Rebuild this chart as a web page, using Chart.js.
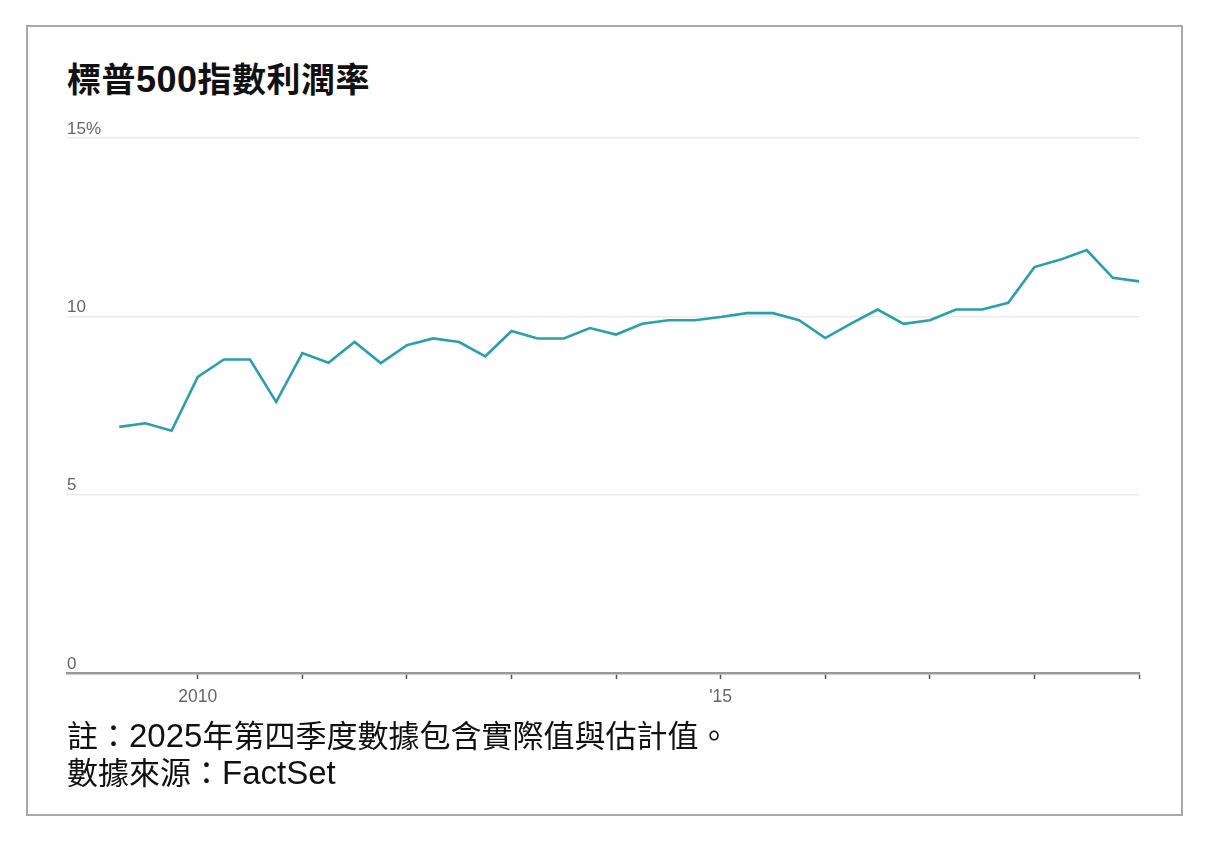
<!DOCTYPE html>
<html>
<head>
<meta charset="utf-8">
<script src="https://cdn.jsdelivr.net/npm/chart.js@4.4.1/dist/chart.umd.min.js"></script>
<style>
  html, body { margin: 0; padding: 0; background: #fff; }
  body { width: 1216px; height: 846px; position: relative; overflow: hidden; }
  .frame {
    position: absolute; left: 26px; top: 25px;
    width: 1153px; height: 787px;
    border: 2px solid #a9a9a9;
  }
  .title {
    position: absolute; left: 67px; top: 60px;
    font: 700 34px/36px "Noto Sans CJK TC", sans-serif;
    letter-spacing: 0.5px;
    color: #111;
    white-space: nowrap;
  }
  .title .num { font: 700 36px/36px "Liberation Sans", Arial, sans-serif; }
  .chart-wrap {
    position: absolute; left: 0; top: 110px;
    width: 1216px; height: 620px;
  }
  .notes {
    position: absolute; left: 67px; top: 716px;
    font: 400 31px/35px "Noto Sans CJK TC", sans-serif;
    color: #111;
    white-space: nowrap;
  }
  .notes .lat { font: 400 33px/35px "Liberation Sans", Arial, sans-serif; }
</style>
</head>
<body>
<div class="frame"></div>
<div class="title">標普<span class="num">500</span>指數利潤率</div>
<div class="chart-wrap"><canvas id="chart"></canvas></div>
<div class="notes">註：<span class="lat">2025</span>年第四季度數據包含實際值與估計值。<br>數據來源：<span class="lat">FactSet</span></div>

<script>
// quarterly S&P 500 net profit margin, %
const quarters = [
  '2009 Q1', '2009 Q2', '2009 Q3', '2009 Q4',
  '2010 Q1', '2010 Q2', '2010 Q3', '2010 Q4',
  '2011 Q1', '2011 Q2', '2011 Q3', '2011 Q4',
  '2012 Q1', '2012 Q2', '2012 Q3', '2012 Q4',
  '2013 Q1', '2013 Q2', '2013 Q3', '2013 Q4',
  '2014 Q1', '2014 Q2', '2014 Q3', '2014 Q4',
  '2015 Q1', '2015 Q2', '2015 Q3', '2015 Q4',
  '2016 Q1', '2016 Q2', '2016 Q3', '2016 Q4',
  '2017 Q1', '2017 Q2', '2017 Q3', '2017 Q4',
  '2018 Q1', '2018 Q2', '2018 Q3', '2018 Q4'
];

const margins = [
  6.90, 7.00, 6.79, 8.30,
  8.79, 8.79, 7.60, 8.97,
  8.70, 9.28, 8.69, 9.19,
  9.38, 9.28, 8.88, 9.59,
  9.38, 9.38, 9.67, 9.49,
  9.79, 9.89, 9.89, 9.98,
  10.09, 10.09, 9.89, 9.39,
  9.80, 10.19, 9.79, 9.89,
  10.19, 10.19, 10.38, 11.38,
  11.59, 11.86, 11.08, 10.98
];

const yTicks = [0, 5, 10, 15];
const xTickLabels = { 2010: '2010', 2015: "'15" };

// year boundaries fall after each Q4
function yearTickIndexes() {
  const out = [];
  quarters.forEach((q, i) => { if (q.endsWith('Q4')) out.push(i); });
  return out;
}

const canvas = document.getElementById('chart');

new Chart(canvas, {
  type: 'line',
  data: {
    datasets: [{
      data: margins.map((v, i) => ({ x: i, y: v })),
      borderColor: '#2b9fac',
      borderWidth: 2.6,
      pointRadius: 0,
      tension: 0,
      fill: false,
    }],
  },
  options: {
    responsive: true,
    maintainAspectRatio: false,
    animation: false,
    layout: {
      padding: { left: 67, right: 77, top: 28, bottom: 17 },
    },
    plugins: {
      legend: { display: false },
      tooltip: { enabled: false },
    },
    scales: {
      x: {
        type: 'linear',
        min: -2,
        max: quarters.length - 1,
        afterBuildTicks: (axis) => {
          axis.ticks = yearTickIndexes().map(v => ({ value: v }));
        },
        afterFit: (axis) => { axis.height = 40; },
        border: { display: true, color: '#9a9a9a', width: 2.5 },
        grid: {
          drawOnChartArea: false,
          drawTicks: true,
          tickLength: 6,
          tickWidth: 1.5,
          tickColor: '#555',
        },
        ticks: {
          autoSkip: false,
          maxRotation: 0,
          padding: 8,
          color: '#666',
          font: { family: '"Liberation Sans", Arial, sans-serif', size: 17.5 },
          callback: (v) => {
            const year = parseInt(quarters[v].slice(0, 4), 10) + 1;
            return xTickLabels[year] || '';
          },
        },
      },
      y: {
        min: 0,
        max: 15,
        afterBuildTicks: (axis) => {
          axis.ticks = yTicks.map(v => ({ value: v }));
        },
        afterFit: (axis) => { axis.width = 0; },
        border: { display: false },
        grid: {
          color: '#ebebeb',
          lineWidth: 1.5,
          drawTicks: false,
        },
        ticks: {
          mirror: true,
          padding: 0,
          labelOffset: -9,
          color: '#666',
          font: { family: '"Liberation Sans", Arial, sans-serif', size: 17 },
          callback: (v) => (v === 15 ? '15%' : String(v)),
        },
      },
    },
  },
});
</script>
</body>
</html>
